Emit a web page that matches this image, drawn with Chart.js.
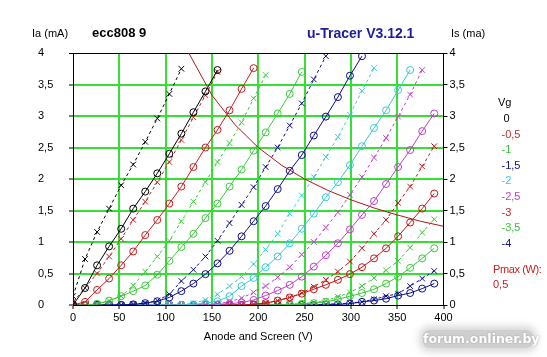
<!DOCTYPE html>
<html>
<head>
<meta charset="utf-8">
<script src="https://cdn.jsdelivr.net/npm/chart.js@4.4.1/dist/chart.umd.min.js"></script>
<style>
  html, body { margin: 0; padding: 0; background: #fff; }
  #wrap { position: relative; width: 547px; height: 357px; overflow: hidden; font-family: "Liberation Sans", Arial, sans-serif; }
  canvas { position: absolute; left: 0; top: 0; }
  .t { position: absolute; white-space: nowrap; font-size: 11px; line-height: 14px; height: 14px; }
  .b { font-weight: bold; }
  #wm { position: absolute; left: 423px; top: 330px; width: 110px; height: 18px; border-radius: 6px;
        background: rgba(175,175,175,0.6); box-shadow: 0 0 7px 4px rgba(185,185,185,0.55);
        color: #fff; font-weight: bold; font-size: 12.5px; line-height: 18px; text-align: center;
        text-shadow: 0 0 2px #999; font-family: "DejaVu Sans", sans-serif; }
</style>
</head>
<body>
<div id="wrap">
  <canvas id="c" width="547" height="357"></canvas>
  <div class="t" style="left:32px;top:26px;">Ia (mA)</div>
  <div class="t b" style="left:92px;top:25px;font-size:13px;line-height:16px;height:16px;">ecc808 9</div>
  <div class="t b" style="left:307px;top:24px;font-size:14px;line-height:18px;height:18px;color:#1c1c9c;">u-Tracer V3.12.1</div>
  <div class="t" style="left:451px;top:26px;">Is (ma)</div>
  <div id="legend"></div>
  <div id="wm">forum.onliner.by</div>
</div>
<script>
// ---- data ----
const sweepV = [0,13,26,39,52,65,78,91,104,117,130,143,156,169,182,195,208,221,234,247,260,273,286,299,312,325,338,351,364,377,390];

const vgLabels = ['0','-0,5','-1','-1,5','-2','-2,5','-3','-3,5','-4'];

// anode current Ia (mA), solid lines with circles
const iaVg0   = [0,0.27,0.63,0.93,1.21,1.53,1.80,2.09,2.40,2.72,3.06,3.39,3.73];
const iaVgM05 = [0,0.05,0.24,0.42,0.63,0.85,1.11,1.35,1.61,1.88,2.19,2.50,2.78,3.09,3.43,3.76];
const iaVgM1  = [0,0,0.02,0.07,0.14,0.22,0.31,0.48,0.70,0.92,1.13,1.38,1.61,1.88,2.15,2.45,2.74,3.04,3.35,3.70];
const iaVgM15 = [0,0,0,0,0,0.01,0.03,0.06,0.12,0.22,0.34,0.49,0.66,0.86,1.09,1.33,1.57,1.84,2.13,2.38,2.69,2.99,3.30,3.64,3.95];
const iaVgM2  = [0,0,0,0,0,0,0,0,0,0,0.01,0.03,0.06,0.14,0.30,0.43,0.60,0.77,0.98,1.21,1.45,1.71,1.95,2.22,2.52,2.81,3.09,3.41,3.73];
const iaVgM25 = [0,0,0,0,0,0,0,0,0,0,0,0,0.01,0.02,0.04,0.08,0.15,0.23,0.32,0.45,0.61,0.79,0.98,1.20,1.43,1.65,1.92,2.19,2.46,2.76,3.04];
const iaVgM3  = [0,0,0,0,0,0,0,0,0,0,0,0,0,0,0,0.01,0.03,0.07,0.12,0.18,0.25,0.32,0.40,0.49,0.60,0.74,0.90,1.09,1.31,1.53,1.77];
const iaVgM35 = [0,0,0,0,0,0,0,0,0,0,0,0,0,0,0,0,0,0,0.01,0.02,0.03,0.05,0.09,0.14,0.19,0.25,0.34,0.45,0.59,0.74,0.90];
const iaVgM4  = [0,0,0,0,0,0,0,0,0,0,0,0,0,0,0,0,0,0,0,0,0,0.01,0.01,0.02,0.05,0.07,0.10,0.15,0.19,0.26,0.34];

// screen current Is (mA), dashed lines with crosses
const isVg0   = [0.14,0.73,1.16,1.53,1.90,2.23,2.59,2.96,3.35,3.75];
const isVgM05 = [0.05,0.27,0.50,0.77,1.05,1.35,1.64,1.95,2.27,2.62,2.98,3.33,3.70];
const isVgM1  = [0,0,0.01,0.07,0.14,0.31,0.53,0.77,1.02,1.33,1.64,1.95,2.27,2.57,2.90,3.28,3.65];
const isVgM15 = [0,0,0,0,0,0.01,0.03,0.07,0.17,0.38,0.56,0.77,1.02,1.30,1.59,1.87,2.19,2.50,2.85,3.20,3.58,3.95];
const isVgM2  = [0,0,0,0,0,0,0,0,0,0,0.03,0.08,0.17,0.30,0.45,0.65,0.88,1.13,1.45,1.74,2.03,2.35,2.67,3.02,3.40,3.76];
const isVgM25 = [0,0,0,0,0,0,0,0,0,0,0,0,0.02,0.05,0.11,0.20,0.30,0.44,0.60,0.80,1.00,1.23,1.47,1.75,2.03,2.34,2.65,2.99,3.34,3.73];
const isVgM3  = [0,0,0,0,0,0,0,0,0,0,0,0,0,0,0,0.01,0.03,0.07,0.12,0.19,0.29,0.40,0.53,0.69,0.90,1.13,1.35,1.62,1.88,2.20,2.52];
const isVgM35 = [0,0,0,0,0,0,0,0,0,0,0,0,0,0,0,0,0,0,0.01,0.02,0.04,0.07,0.13,0.20,0.30,0.43,0.55,0.70,0.91,1.15,1.36];
const isVgM4  = [0,0,0,0,0,0,0,0,0,0,0,0,0,0,0,0,0,0,0,0,0,0.01,0.02,0.03,0.05,0.09,0.14,0.18,0.30,0.42,0.54];

// Pmax 0.5 W limit curve
const pmaxV = [125,150,175,200,225,250,275,300,325,350,375,400];
const pmaxI = [4.0,3.33,2.86,2.5,2.22,2.0,1.82,1.67,1.54,1.43,1.33,1.25];

const xTicks = [0,50,100,150,200,250,300,350,400];
const yTicks = [0,0.5,1,1.5,2,2.5,3,3.5,4];

// ---- styles ----
const curveColors = ['#000000','#c41e1e','#3cc83c','#0c0c8c','#3cc8d4','#c23ec6','#c81414','#3cc83c','#0c0c8c'];
const legendColors = ['#000000','#c03030','#3cc03c','#101080','#40c8d8','#c040c0','#c82020','#3cc03c','#101080'];
const gridGreen = '#36de36';

const iaSets = [iaVg0,iaVgM05,iaVgM1,iaVgM15,iaVgM2,iaVgM25,iaVgM3,iaVgM35,iaVgM4];
const isSets = [isVg0,isVgM05,isVgM1,isVgM15,isVgM2,isVgM25,isVgM3,isVgM35,isVgM4];

const toPts = arr => arr.map((v, i) => ({x: sweepV[i], y: v}));

const datasets = [];
datasets.push({
  label: 'Pmax', data: pmaxV.map((v, i) => ({x: v, y: pmaxI[i]})),
  borderColor: '#b01818', borderWidth: 1, pointRadius: 0, tension: 0, fill: false, yAxisID: 'y'
});
iaSets.forEach((arr, i) => {
  datasets.push({
    label: 'Ia ' + vgLabels[i], data: toPts(arr), yAxisID: 'y',
    borderColor: curveColors[i], borderWidth: 1, tension: 0, fill: false,
    pointStyle: 'circle', pointRadius: 3.5, pointBorderWidth: 1,
    pointBorderColor: curveColors[i], pointBackgroundColor: 'rgba(0,0,0,0)'
  });
  datasets.push({
    label: 'Is ' + vgLabels[i], data: toPts(isSets[i]), yAxisID: 'y2',
    borderColor: curveColors[i], borderWidth: 1, borderDash: [3,3], tension: 0, fill: false,
    pointStyle: 'crossRot', pointRadius: 4, pointBorderWidth: 1,
    pointBorderColor: curveColors[i], pointBackgroundColor: curveColors[i]
  });
});

const fmt = v => String(v).replace('.', ',');
const tickFont = {family: '"Liberation Sans", Arial, sans-serif', size: 11};

new Chart(document.getElementById('c'), {
  type: 'line',
  data: {datasets},
  options: {
    responsive: false, animation: false, devicePixelRatio: 1,
    layout: {padding: {left: 38, right: 0, top: 53, bottom: 0}},
    plugins: {legend: {display: false}, tooltip: {enabled: false}},
    scales: {
      x: {
        type: 'linear', min: 0, max: 400,
        afterBuildTicks: s => { s.ticks = xTicks.map(v => ({value: v})); },
        afterFit: s => { s.height = 52; },
        ticks: {color: '#000', font: tickFont, padding: 2, maxRotation: 0, callback: v => fmt(v)},
        grid: {
          color: c => (c.tick && (c.tick.value === 0 || c.tick.value === 400)) ? 'rgba(0,0,0,0)' : gridGreen,
          lineWidth: 2, tickColor: '#000', tickLength: 4, tickWidth: 1
        },
        border: {display: true, color: '#000', width: 1},
        title: {display: true, text: 'Anode and Screen (V)', color: '#000', font: tickFont, padding: {top: 0, bottom: 13}}
      },
      y: {
        type: 'linear', position: 'left', min: 0, max: 4,
        afterBuildTicks: s => { s.ticks = yTicks.map(v => ({value: v})); },
        afterFit: s => { s.width = 35; },
        ticks: {color: '#000', font: tickFont, padding: 2, crossAlign: 'far', callback: v => fmt(v)},
        grid: {
          color: c => (c.tick && c.tick.value === 4) ? '#000' : (c.tick && c.tick.value === 0 ? 'rgba(0,0,0,0)' : gridGreen),
          lineWidth: c => (c.tick && c.tick.value === 4) ? 1 : 2,
          tickColor: '#000', tickLength: 4, tickWidth: 1
        },
        border: {display: true, color: '#000', width: 1}
      },
      y2: {
        type: 'linear', position: 'right', min: 0, max: 4,
        afterBuildTicks: s => { s.ticks = yTicks.map(v => ({value: v})); },
        afterFit: s => { s.width = 103.5; },
        ticks: {color: '#000', font: tickFont, padding: 2, callback: v => fmt(v)},
        grid: {drawOnChartArea: false, tickColor: '#000', tickLength: 4, tickWidth: 1},
        border: {display: true, color: '#000', width: 1}
      }
    }
  }
});

// ---- legend (Vg values + Pmax) ----
const legend = document.getElementById('legend');
function addText(txt, left, cy, color, extra) {
  const d = document.createElement('div');
  d.className = 't';
  d.textContent = txt;
  d.style.left = left + 'px';
  d.style.top = (cy - 7) + 'px';
  d.style.color = color;
  if (extra) d.style.letterSpacing = extra;
  legend.appendChild(d);
}
addText('Vg', 498, 102, '#000');
const legendY = [118,133.5,149,164.5,180,196,211.5,227,243];
vgLabels.forEach((lab, i) => addText(lab, lab === '0' ? 503.5 : 501.5, legendY[i], legendColors[i]));
addText('Pmax (W):', 493, 269, '#c82020', '-0.4px');
addText('0,5', 493, 284, '#c82020');
</script>
</body>
</html>
